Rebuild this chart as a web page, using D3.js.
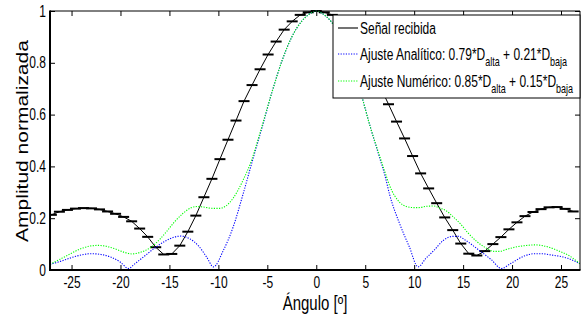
<!DOCTYPE html>
<html>
<head>
<meta charset="utf-8">
<script src="https://cdn.jsdelivr.net/npm/d3@7/dist/d3.min.js"></script>
<style>
  html, body { margin: 0; padding: 0; background: #fff; }
  svg { display: block; font-family: "Liberation Sans", Arial, Helvetica, sans-serif; }
</style>
</head>
<body>
<svg id="chart" width="585" height="320"></svg>
<script>
// Received signal (errorbar points)
const senalAngulo = [-27.06, -26.24, -25.42, -24.6, -23.78, -22.96, -22.14, -21.32, -20.5, -19.68,
  -18.86, -18.04, -17.22, -16.4, -15.58, -14.76, -13.94, -13.12, -12.3, -11.48,
  -10.66, -9.84, -9.02, -8.2, -7.38, -6.56, -5.74, -4.92, -4.1, -3.28,
  -2.46, -1.64, -0.82, 0, 0.82, 1.64, 2.46, 3.28, 4.1, 4.92,
  5.74, 6.56, 7.38, 8.2, 9.02, 9.84, 10.66, 11.48, 12.3, 13.12,
  13.94, 14.76, 15.58, 16.4, 17.22, 18.04, 18.86, 19.68, 20.5, 21.32,
  22.14, 22.96, 23.78, 24.6, 25.42, 26.24];
const senalValor = [0.213, 0.225, 0.232, 0.237, 0.239, 0.238, 0.234, 0.226, 0.217, 0.205,
  0.188, 0.160, 0.128, 0.088, 0.060, 0.062, 0.094, 0.148, 0.210, 0.281,
  0.352, 0.428, 0.503, 0.577, 0.652, 0.714, 0.775, 0.832, 0.882, 0.928,
  0.960, 0.985, 0.995, 1.0, 0.995, 0.985, 0.958, 0.925, 0.878, 0.826,
  0.767, 0.705, 0.640, 0.573, 0.508, 0.440, 0.373, 0.315, 0.258, 0.203,
  0.154, 0.102, 0.063, 0.056, 0.073, 0.100, 0.127, 0.157, 0.184, 0.208,
  0.224, 0.235, 0.242, 0.243, 0.236, 0.226];

// Analytic fit: 0.79*D_alta + 0.21*D_baja
const analiticoAngulo = [-27.2, -26, -25, -24, -23, -22, -21, -20, -19.2, -18.5,
  -17.5, -16.5, -15.5, -14.5, -13.8, -13, -12, -11.2, -10.5, -9.5,
  -8.5, -7.5, -6.5, -5.5, -4.5, -3.5, -2.5, -1.5, -0.5, 0,
  0.5, 1.5, 2.5, 3.5, 4.5, 5.5, 6.5, 7, 7.5, 8.5,
  9.5, 10.4, 11.2, 12, 13, 14, 14.5, 15.2, 16.5, 17.9,
  18.9, 19.9, 21.3, 22.3, 23, 24, 25.7, 26.94];
const analiticoValor = [0.022, 0.035, 0.048, 0.058, 0.063, 0.060, 0.050, 0.030, 0.006, 0.025,
  0.055, 0.085, 0.110, 0.127, 0.131, 0.122, 0.092, 0.050, 0.012, 0.075,
  0.165, 0.290, 0.425, 0.555, 0.690, 0.808, 0.900, 0.960, 0.993, 1.0,
  0.993, 0.960, 0.900, 0.808, 0.690, 0.555, 0.430, 0.367, 0.290, 0.180,
  0.090, 0.012, 0.045, 0.075, 0.115, 0.130, 0.130, 0.116, 0.080, 0.039,
  0.006, 0.026, 0.055, 0.063, 0.063, 0.058, 0.045, 0.024];

// Numeric fit: 0.85*D_alta + 0.15*D_baja
const numericoAngulo = [-27.2, -26, -25, -24, -23, -22.3, -21.5, -20.5, -19.5, -18.8,
  -18, -17, -16, -15.3, -14.5, -13.6, -12.8, -12.2, -11.5, -10.6,
  -9.9, -9.2, -8.5, -7.5, -6.6, -5.76, -4.5, -3.5, -2.5, -1.5,
  -0.5, 0, 0.5, 1.5, 2.5, 3.5, 4.5, 5.5, 6.5, 7,
  7.5, 8.5, 9.2, 9.9, 10.5, 11.3, 12, 12.7, 13.3, 14,
  14.8, 15.5, 16.4, 17.2, 18.2, 18.8, 19.3, 20.3, 21.3, 22.3,
  23, 24, 25, 25.7, 26.94];
const numericoValor = [0.022, 0.045, 0.065, 0.083, 0.093, 0.095, 0.092, 0.081, 0.067, 0.062,
  0.068, 0.085, 0.118, 0.148, 0.185, 0.219, 0.240, 0.245, 0.243, 0.238,
  0.238, 0.248, 0.277, 0.345, 0.425, 0.528, 0.690, 0.808, 0.900, 0.960,
  0.993, 1.0, 0.993, 0.960, 0.900, 0.808, 0.690, 0.555, 0.437, 0.380,
  0.325, 0.262, 0.245, 0.241, 0.241, 0.246, 0.247, 0.238, 0.228, 0.205,
  0.175, 0.143, 0.110, 0.088, 0.072, 0.072, 0.078, 0.088, 0.094, 0.097,
  0.095, 0.085, 0.070, 0.058, 0.024];

const xTicks = [-25, -20, -15, -10, -5, 0, 5, 10, 15, 20, 25];
const xTickLabels = ["-25", "-20", "-15", "-10", "-5", "0", "5", "10", "15", "20", "25"];
const yTicks = [0, 0.2, 0.4, 0.6, 0.8, 1];
const yTickLabels = ["0", "0.2", "0.4", "0.6", "0.8", "1"];

const xTitle = "Ángulo [º]";
const yTitle = "Amplitud normalizada";

const W = 585, H = 320;
const plot = { left: 50, right: 580, top: 11, bottom: 270 };
const squeeze = 0.75; // horizontally narrow lettering

const svg = d3.select("#chart");
const x = d3.scaleLinear().domain([-27.2, 26.94]).range([plot.left, plot.right]);
const y = d3.scaleLinear().domain([0, 1]).range([plot.bottom, plot.top]);

svg.append("defs").append("clipPath").attr("id", "clip")
  .append("rect")
  .attr("x", plot.left).attr("y", plot.top - 2)
  .attr("width", plot.right - plot.left).attr("height", plot.bottom - plot.top + 2);

// Narrow every text about its own anchor point
function narrow(sel) {
  sel.each(function () {
    const t = d3.select(this);
    const ax = +(t.attr("x") || 0);
    t.attr("transform", `translate(${ax},0) scale(${squeeze},1) translate(${-ax},0)`);
  });
}

// Axes with inward ticks
const axB = svg.append("g").attr("transform", `translate(0,${plot.bottom})`)
  .call(d3.axisBottom(x).tickValues(xTicks).tickFormat((d, i) => xTickLabels[i])
    .tickSizeInner(-5).tickSizeOuter(0).tickPadding(7));
const axT = svg.append("g").attr("transform", `translate(0,${plot.top})`)
  .call(d3.axisTop(x).tickValues(xTicks).tickFormat("").tickSizeInner(-5).tickSizeOuter(0));
const axL = svg.append("g").attr("transform", `translate(${plot.left},0)`)
  .call(d3.axisLeft(y).tickValues(yTicks).tickFormat((d, i) => yTickLabels[i])
    .tickSizeInner(-5).tickSizeOuter(0).tickPadding(4));
const axR = svg.append("g").attr("transform", `translate(${plot.right},0)`)
  .call(d3.axisRight(y).tickValues(yTicks).tickFormat("").tickSizeInner(-5).tickSizeOuter(0));

[axB, axT, axL, axR].forEach(a => {
  a.select(".domain").remove();
  a.selectAll(".tick line").attr("stroke", "#000").attr("stroke-width", 1);
  a.selectAll("text").attr("fill", "#000").attr("font-size", 16)
    .attr("font-family", "Liberation Sans, Arial, sans-serif");
});
axB.selectAll("text").attr("dy", "0.71em");
narrow(axB.selectAll("text"));
narrow(axL.selectAll("text"));

// Curves
const g = svg.append("g").attr("clip-path", "url(#clip)");
const senal = senalAngulo.map((a, i) => [a, senalValor[i]]);
const analitico = analiticoAngulo.map((a, i) => [a, analiticoValor[i]]);
const numerico = numericoAngulo.map((a, i) => [a, numericoValor[i]]);

const lineSmooth = d3.line().x(d => x(d[0])).y(d => y(d[1])).curve(d3.curveMonotoneX);
const lineStraight = d3.line().x(d => x(d[0])).y(d => y(d[1]));

g.append("path").datum(senal).attr("d", lineStraight)
  .attr("fill", "none").attr("stroke", "#000").attr("stroke-width", 1);
g.selectAll(".cap").data(senal).join("line").attr("class", "cap")
  .attr("x1", d => x(d[0]) - 5.5).attr("x2", d => x(d[0]) + 5.5)
  .attr("y1", d => y(d[1])).attr("y2", d => y(d[1]))
  .attr("stroke", "#000").attr("stroke-width", 2);

g.append("path").datum(analitico).attr("d", lineSmooth)
  .attr("fill", "none").attr("stroke", "#0000ff").attr("stroke-width", 1.1)
  .attr("stroke-dasharray", "1.2,1.4");
g.append("path").datum(numerico).attr("d", lineSmooth)
  .attr("fill", "none").attr("stroke", "#00ff00").attr("stroke-width", 1.1)
  .attr("stroke-dasharray", "1.2,1.4");

// Frame
svg.append("line").attr("x1", plot.left).attr("x2", plot.right).attr("y1", plot.top).attr("y2", plot.top)
  .attr("stroke", "#000").attr("stroke-width", 1);
svg.append("line").attr("x1", plot.right).attr("x2", plot.right).attr("y1", plot.top).attr("y2", plot.bottom)
  .attr("stroke", "#000").attr("stroke-width", 1);
svg.append("line").attr("x1", plot.left).attr("x2", plot.right + 0.5).attr("y1", plot.bottom).attr("y2", plot.bottom)
  .attr("stroke", "#000").attr("stroke-width", 2);
svg.append("line").attr("x1", plot.left).attr("x2", plot.left).attr("y1", plot.top - 0.5).attr("y2", plot.bottom + 1)
  .attr("stroke", "#000").attr("stroke-width", 2);

// Axis titles
svg.append("text").attr("x", 315).attr("y", 310).attr("text-anchor", "middle")
  .attr("font-size", 20).attr("fill", "#000").text(xTitle)
  .call(narrow);
svg.append("g").attr("transform", `translate(22,141) rotate(-90) scale(1,${squeeze})`)
  .append("text").attr("text-anchor", "middle").attr("dominant-baseline", "central")
  .attr("font-size", 21).attr("fill", "#000").text(yTitle);

// Legend
const leg = { left: 333, top: 15, right: 580, bottom: 98 };
svg.append("rect").attr("x", leg.left).attr("y", leg.top)
  .attr("width", leg.right - leg.left).attr("height", leg.bottom - leg.top)
  .attr("fill", "#fff").attr("stroke", "#000").attr("stroke-width", 1);

const rows = [
  { y: 28, color: "#000", dash: null, parts: [["Señal recibida", 0]] },
  { y: 54, color: "#0000ff", dash: "1.2,1.4",
    parts: [["Ajuste Analítico: 0.79*D", 0], ["alta", 1], [" + 0.21*D", 0], ["baja", 1]] },
  { y: 81, color: "#00ff00", dash: "1.2,1.4",
    parts: [["Ajuste Numérico: 0.85*D", 0], ["alta", 1], [" + 0.15*D", 0], ["baja", 1]] }
];
const textX = 360;
rows.forEach(r => {
  svg.append("line").attr("x1", 338).attr("x2", 358).attr("y1", r.y).attr("y2", r.y)
    .attr("stroke", r.color).attr("stroke-width", 1.1)
    .attr("stroke-dasharray", r.dash);
  const t = svg.append("text").attr("x", textX).attr("y", r.y + 6)
    .attr("font-size", 16).attr("fill", "#000")
    .attr("transform", `translate(${textX},0) scale(${squeeze},1) translate(${-textX},0)`);
  let sub = 0;
  r.parts.forEach(([s, isSub]) => {
    const ts = t.append("tspan").text(s);
    if (isSub && !sub) { ts.attr("dy", 6).attr("font-size", 12); sub = 1; }
    else if (!isSub && sub) { ts.attr("dy", -6); sub = 0; }
    else if (isSub) { ts.attr("font-size", 12); }
  });
});
</script>
</body>
</html>
